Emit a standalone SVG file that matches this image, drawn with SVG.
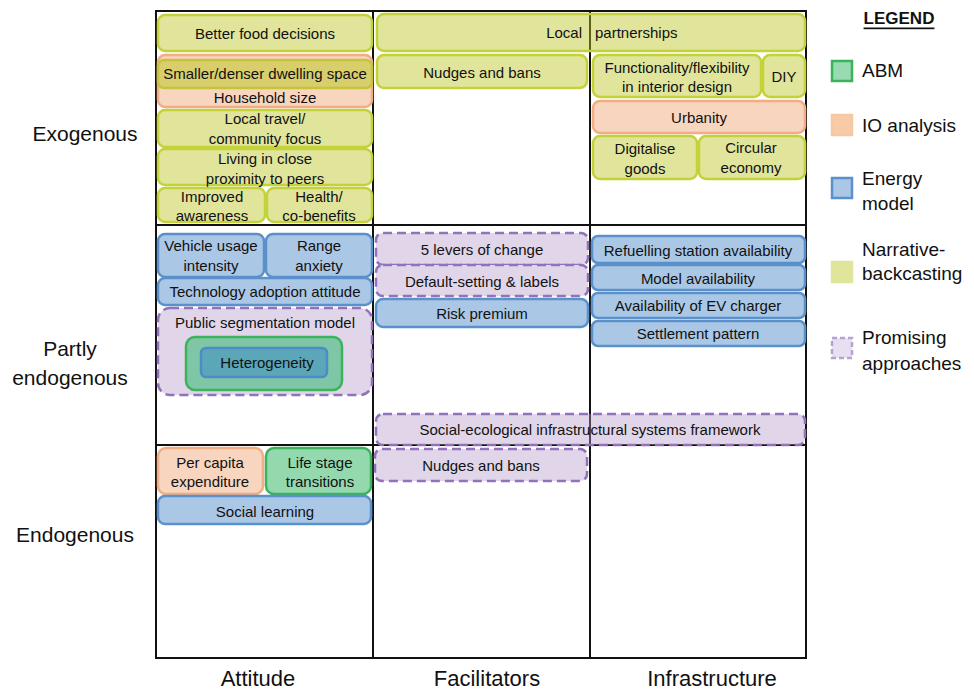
<svg xmlns="http://www.w3.org/2000/svg" width="974" height="690" viewBox="0 0 974 690">
  <style>
    text { font-family: "Liberation Sans", Arial, sans-serif; fill: #111; }
    .t { font-size: 15px; text-anchor: middle; dominant-baseline: central; }
    .axis { font-size: 21px; text-anchor: middle; dominant-baseline: central; }
    .col { font-size: 22px; text-anchor: middle; dominant-baseline: central; }
    .leg { font-size: 19px; dominant-baseline: central; }
    .grid { fill: none; stroke: #111; stroke-width: 2; }
    rect { stroke-width: 2.5; }
    .nar { fill: #e0e59b; stroke: #c4d23a; }
    .io { fill: #f8d5bf; stroke: #f2ad84; }
    .en { fill: #abc7e6; stroke: #5a91cb; }
    .abm { fill: #94d8ae; stroke: #3bb35a; }
    .pro { fill: #e1d6e9; stroke: #9272bb; stroke-dasharray: 9 5; }
  </style>

  <!-- matrix grid -->
  <g id="grid">
    <rect class="grid" x="156" y="11" width="650" height="647"/>
    <line class="grid" x1="373" y1="11" x2="373" y2="658"/>
    <line class="grid" x1="590" y1="11" x2="590" y2="658"/>
    <line class="grid" x1="156" y1="225" x2="806" y2="225"/>
    <line class="grid" x1="156" y1="445" x2="806" y2="445"/>
  </g>

  <!-- row and column headings -->
  <g id="axis-labels">
    <text class="axis" x="85" y="133">Exogenous</text>
    <text class="axis" x="70" y="348">Partly</text>
    <text class="axis" x="70" y="377">endogenous</text>
    <text class="axis" x="75" y="534">Endogenous</text>
    <text class="col" x="258" y="678">Attitude</text>
    <text class="col" x="487" y="678">Facilitators</text>
    <text class="col" x="712" y="678">Infrastructure</text>
  </g>

  <!-- Exogenous / Attitude -->
  <g id="better-food"><rect class="nar" x="158" y="15" width="214" height="36" rx="7"/><text class="t" x="265" y="33">Better food decisions</text></g>
  <g id="household-size"><rect class="io" x="158" y="55" width="214" height="52" rx="7"/><text class="t" x="265" y="97">Household size</text></g>
  <g id="dwelling-space"><rect x="158" y="60" width="214" height="28" rx="6" fill="#d8ce6c" stroke="#c6c43c"/><text class="t" x="265" y="73">Smaller/denser dwelling space</text></g>
  <g id="local-travel"><rect class="nar" x="158" y="110" width="214" height="37" rx="7"/><text class="t" x="265" y="118">Local travel/</text><text class="t" x="265" y="138">community focus</text></g>
  <g id="close-proximity"><rect class="nar" x="158" y="149" width="214" height="36" rx="7"/><text class="t" x="265" y="158">Living in close</text><text class="t" x="265" y="178">proximity to peers</text></g>
  <g id="improved-awareness"><rect class="nar" x="158" y="188" width="107" height="34" rx="7"/><text class="t" x="212" y="196">Improved</text><text class="t" x="212" y="215">awareness</text></g>
  <g id="health"><rect class="nar" x="267" y="188" width="105" height="34" rx="7"/><text class="t" x="319" y="196">Health/</text><text class="t" x="319" y="215">co-benefits</text></g>

  <!-- Exogenous / Facilitators and Infrastructure -->
  <g id="local-partnerships"><rect x="377" y="14" width="428" height="37" rx="7" fill="#bbc621" fill-opacity="0.45" stroke="#c4d23a"/><text class="t" x="582" y="32" style="text-anchor:end">Local</text><text class="t" x="595" y="32" style="text-anchor:start">partnerships</text></g>
  <g id="nudges-bans-exo"><rect class="nar" x="377" y="55" width="210" height="33" rx="7"/><text class="t" x="482" y="72">Nudges and bans</text></g>
  <g id="interior-design"><rect class="nar" x="593" y="55" width="168" height="42" rx="7"/><text class="t" x="677" y="67">Functionality/flexibility</text><text class="t" x="677" y="86">in interior design</text></g>
  <g id="diy"><rect class="nar" x="763" y="55" width="42" height="42" rx="7"/><text class="t" x="784" y="76">DIY</text></g>
  <g id="urbanity"><rect class="io" x="593" y="101" width="212" height="32" rx="7"/><text class="t" x="699" y="117">Urbanity</text></g>
  <g id="digitalise-goods"><rect class="nar" x="593" y="136" width="104" height="43" rx="7"/><text class="t" x="645" y="148">Digitalise</text><text class="t" x="645" y="168">goods</text></g>
  <g id="circular-economy"><rect class="nar" x="699" y="136" width="106" height="43" rx="7"/><text class="t" x="751" y="147">Circular</text><text class="t" x="751" y="167">economy</text></g>

  <!-- Partly endogenous / Attitude -->
  <g id="vehicle-usage"><rect class="en" x="158" y="234" width="106" height="43" rx="7"/><text class="t" x="211" y="245">Vehicle usage</text><text class="t" x="211" y="265">intensity</text></g>
  <g id="range-anxiety"><rect class="en" x="266" y="234" width="106" height="43" rx="7"/><text class="t" x="319" y="245">Range</text><text class="t" x="319" y="265">anxiety</text></g>
  <g id="technology-adoption"><rect class="en" x="158" y="278" width="214" height="27" rx="7"/><text class="t" x="265" y="291">Technology adoption attitude</text></g>
  <g id="public-segmentation"><rect class="pro" x="158" y="308" width="214" height="87" rx="12"/><text class="t" x="265" y="322">Public segmentation model</text>
    <rect x="186" y="337" width="156" height="53" rx="9" fill="#7fc6a6" stroke="#3bb35a"/>
    <rect x="201" y="348" width="126" height="29" rx="5" fill="#5ba6b8" stroke="#4c8bc6"/><text class="t" x="267" y="362">Heterogeneity</text></g>

  <!-- Partly endogenous / Facilitators -->
  <g id="five-levers"><rect class="pro" x="376" y="233" width="212" height="32" rx="7"/><text class="t" x="482" y="249">5 levers of change</text></g>
  <g id="default-setting"><rect class="pro" x="376" y="265" width="212" height="31" rx="7"/><text class="t" x="482" y="281">Default-setting &amp; labels</text></g>
  <g id="risk-premium"><rect class="en" x="376" y="299" width="212" height="28" rx="7"/><text class="t" x="482" y="313">Risk premium</text></g>

  <!-- Partly endogenous / Infrastructure -->
  <g id="refuelling-station"><rect class="en" x="592" y="236" width="213" height="27" rx="6"/><text class="t" x="698" y="250">Refuelling station availability</text></g>
  <g id="model-availability"><rect class="en" x="592" y="265" width="213" height="25" rx="6"/><text class="t" x="698" y="278">Model availability</text></g>
  <g id="ev-charger"><rect class="en" x="592" y="293" width="213" height="25" rx="6"/><text class="t" x="698" y="305">Availability of EV charger</text></g>
  <g id="settlement-pattern"><rect class="en" x="592" y="321" width="213" height="25" rx="6"/><text class="t" x="698" y="333">Settlement pattern</text></g>
  <g id="social-ecological"><rect x="376" y="414" width="429" height="31" rx="7" fill="#b498c8" fill-opacity="0.4" stroke="#9272bb" stroke-dasharray="9 5"/><text class="t" x="590" y="429">Social-ecological infrastructural systems framework</text></g>

  <!-- Endogenous -->
  <g id="per-capita"><rect class="io" x="158" y="448" width="105" height="46" rx="8"/><text class="t" x="210" y="462">Per capita</text><text class="t" x="210" y="481">expenditure</text></g>
  <g id="life-stage"><rect class="abm" x="266" y="448" width="105" height="46" rx="8"/><text class="t" x="320" y="462">Life stage</text><text class="t" x="320" y="481">transitions</text></g>
  <g id="social-learning"><rect class="en" x="158" y="496" width="213" height="28" rx="7"/><text class="t" x="265" y="511">Social learning</text></g>
  <g id="nudges-bans-endo"><rect class="pro" x="375" y="449" width="212" height="32" rx="7"/><text class="t" x="481" y="465">Nudges and bans</text></g>

  <!-- legend -->
  <g id="legend">
    <text x="899" y="18" style="font-size:17px;font-weight:bold;text-anchor:middle;dominant-baseline:central;text-decoration:underline">LEGEND</text>
    <rect x="832" y="61" width="20" height="20" fill="#98dab1" stroke="#3bb35a"/>
    <text class="leg" x="862" y="70">ABM</text>
    <rect x="832" y="115" width="20" height="20" fill="#f9caa7" stroke="#f6c8a2"/>
    <text class="leg" x="862" y="125">IO analysis</text>
    <rect x="832" y="178" width="20" height="20" fill="#abc7e6" stroke="#5a91cb"/>
    <text class="leg" x="862" y="178">Energy</text>
    <text class="leg" x="862" y="203">model</text>
    <rect x="832" y="262" width="20" height="20" fill="#e0e59b" stroke="#dfe69a"/>
    <text class="leg" x="862" y="249">Narrative-</text>
    <text class="leg" x="862" y="273">backcasting</text>
    <rect x="832" y="338" width="20" height="20" fill="#e8e0f0" stroke="#b7a3d3" stroke-dasharray="5 3"/>
    <text class="leg" x="862" y="337">Promising</text>
    <text class="leg" x="862" y="363">approaches</text>
  </g>
</svg>
